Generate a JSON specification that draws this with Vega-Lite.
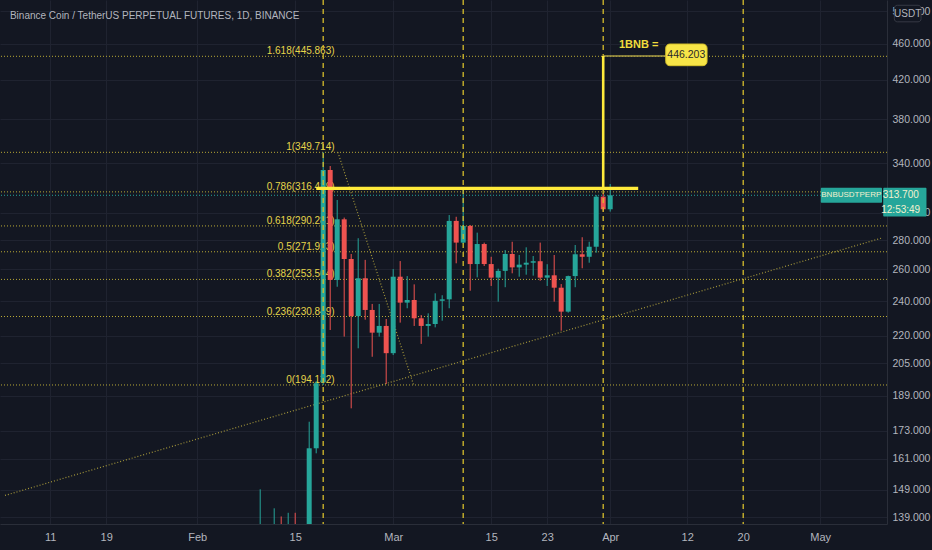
{
  "$schema": "https://vega.github.io/schema/vega-lite/v6.json",
  "width": 887,
  "height": 524,
  "autosize": {"type": "none"},
  "padding": {"left": 0, "top": 0, "right": 45, "bottom": 26},
  "background": "#131722",
  "config": {
    "view": {"stroke": null},
    "font": "Liberation Sans, sans-serif",
    "text": {"font": "Liberation Sans, sans-serif"},
    "axis": {"labelFont": "Liberation Sans, sans-serif"}
  },
  "datasets": {
    "candles": [
      {"date": "2021-02-10", "open": 130, "high": 149.1, "low": 126, "close": 134},
      {"date": "2021-02-11", "open": 134, "high": 136.5, "low": 122, "close": 128},
      {"date": "2021-02-12", "open": 128, "high": 142.1, "low": 125, "close": 136.5},
      {"date": "2021-02-13", "open": 136.5, "high": 139.2, "low": 128, "close": 132},
      {"date": "2021-02-14", "open": 132, "high": 140.5, "low": 128, "close": 135.5},
      {"date": "2021-02-15", "open": 135.5, "high": 140.5, "low": 127, "close": 131},
      {"date": "2021-02-16", "open": 131, "high": 136, "low": 126, "close": 133},
      {"date": "2021-02-17", "open": 133, "high": 176.9, "low": 130, "close": 165.4},
      {"date": "2021-02-18", "open": 165.4, "high": 196, "low": 163.3, "close": 195.0},
      {"date": "2021-02-19", "open": 195.5, "high": 349.714, "low": 194.132, "close": 334.4},
      {"date": "2021-02-20", "open": 334.4, "high": 337.8, "low": 223.1, "close": 253.2},
      {"date": "2021-02-21", "open": 253.2, "high": 310.0, "low": 248.9, "close": 295.2},
      {"date": "2021-02-22", "open": 295.2, "high": 296.5, "low": 219.4, "close": 267.0},
      {"date": "2021-02-23", "open": 267.0, "high": 270.4, "low": 183.0, "close": 231.1},
      {"date": "2021-02-24", "open": 231.1, "high": 281.4, "low": 213.0, "close": 254.3},
      {"date": "2021-02-25", "open": 254.3, "high": 266.4, "low": 229.0, "close": 234.7},
      {"date": "2021-02-26", "open": 234.7, "high": 238.3, "low": 208.5, "close": 221.6},
      {"date": "2021-02-27", "open": 221.6, "high": 238.3, "low": 219.4, "close": 225.4},
      {"date": "2021-02-28", "open": 225.4, "high": 229.4, "low": 194.6, "close": 210.4},
      {"date": "2021-03-01", "open": 210.4, "high": 260.3, "low": 209.4, "close": 255.3},
      {"date": "2021-03-02", "open": 255.3, "high": 265.6, "low": 227.3, "close": 239.1},
      {"date": "2021-03-03", "open": 239.1, "high": 255.7, "low": 235.7, "close": 240.7},
      {"date": "2021-03-04", "open": 240.7, "high": 250.4, "low": 225.4, "close": 229.8},
      {"date": "2021-03-05", "open": 229.8, "high": 231.7, "low": 215.4, "close": 225.4},
      {"date": "2021-03-06", "open": 225.4, "high": 232.7, "low": 219.4, "close": 226.5},
      {"date": "2021-03-07", "open": 226.5, "high": 244.8, "low": 224.6, "close": 240.2},
      {"date": "2021-03-08", "open": 240.2, "high": 243.6, "low": 228.4, "close": 241.1},
      {"date": "2021-03-09", "open": 241.1, "high": 298.4, "low": 235.7, "close": 294.0},
      {"date": "2021-03-10", "open": 294.0, "high": 297.1, "low": 264.1, "close": 278.3},
      {"date": "2021-03-11", "open": 278.3, "high": 318.0, "low": 277.5, "close": 290.3},
      {"date": "2021-03-12", "open": 290.3, "high": 291.0, "low": 246.4, "close": 263.6},
      {"date": "2021-03-13", "open": 263.6, "high": 285.4, "low": 254.9, "close": 277.3},
      {"date": "2021-03-14", "open": 277.3, "high": 278.3, "low": 262.3, "close": 263.6},
      {"date": "2021-03-15", "open": 263.6, "high": 268.5, "low": 249.4, "close": 254.7},
      {"date": "2021-03-16", "open": 254.7, "high": 260.5, "low": 239.7, "close": 259.1},
      {"date": "2021-03-17", "open": 259.1, "high": 273.1, "low": 248.6, "close": 270.4},
      {"date": "2021-03-18", "open": 270.4, "high": 278.9, "low": 257.5, "close": 261.4},
      {"date": "2021-03-19", "open": 261.4, "high": 269.7, "low": 255.3, "close": 263.2},
      {"date": "2021-03-20", "open": 263.2, "high": 275.0, "low": 256.6, "close": 264.5},
      {"date": "2021-03-21", "open": 264.5, "high": 269.0, "low": 256.0, "close": 265.5},
      {"date": "2021-03-22", "open": 265.5, "high": 278.3, "low": 252.7, "close": 254.7},
      {"date": "2021-03-23", "open": 254.7, "high": 263.5, "low": 249.4, "close": 256.2},
      {"date": "2021-03-24", "open": 256.2, "high": 269.7, "low": 239.7, "close": 248.3},
      {"date": "2021-03-25", "open": 248.3, "high": 250.6, "low": 222.7, "close": 233.7},
      {"date": "2021-03-26", "open": 233.7, "high": 256.0, "low": 233.1, "close": 255.7},
      {"date": "2021-03-27", "open": 255.7, "high": 276.6, "low": 248.6, "close": 270.2},
      {"date": "2021-03-28", "open": 270.2, "high": 282.1, "low": 260.8, "close": 268.5},
      {"date": "2021-03-29", "open": 268.5, "high": 278.9, "low": 264.5, "close": 275.4},
      {"date": "2021-03-30", "open": 275.4, "high": 313.9, "low": 271.3, "close": 312.6},
      {"date": "2021-03-31", "open": 312.6, "high": 315.3, "low": 301.0, "close": 302.8},
      {"date": "2021-04-01", "open": 302.8, "high": 322.8, "low": 301.0, "close": 313.7}
    ],
    "fib": [
      {"label": "1.618(445.863)", "price": 445.863},
      {"label": "1(349.714)", "price": 349.714},
      {"label": "0.786(316.419)", "price": 316.419},
      {"label": "0.618(290.281)", "price": 290.281},
      {"label": "0.5(271.923)", "price": 271.923},
      {"label": "0.382(253.564)", "price": 253.564},
      {"label": "0.236(230.849)", "price": 230.849},
      {"label": "0(194.132)", "price": 194.132}
    ],
    "diagonals": [
      {"series": "fib", "date": "2021-02-21T02:30:00Z", "price": 349.714},
      {"series": "fib", "date": "2021-03-03T22:05:00Z", "price": 194.132},
      {"series": "trend", "date": "2021-01-04T13:05:00Z", "price": 146.8},
      {"series": "trend", "date": "2021-05-09T19:52:00Z", "price": 281.6}
    ],
    "cycles": [
      {"date": "2021-02-19"},
      {"date": "2021-03-11"},
      {"date": "2021-03-31"},
      {"date": "2021-04-20"}
    ]
  },
  "layer": [
    {
      "data": {"name": "fib"},
      "mark": {"type": "rule", "clip": true, "color": "#b8a935", "strokeWidth": 1, "strokeDash": [1, 2]},
      "encoding": {
        "y": {"field": "price", "type": "quantitative", "scale": {"type": "log", "domain": [136.57, 514.11], "nice": false, "zero": false}}
      }
    },
    {
      "data": {"name": "fib"},
      "mark": {"type": "text", "clip": true, "align": "right", "baseline": "alphabetic", "dy": -2, "fontSize": 10, "color": "#e6d54a"},
      "encoding": {
        "x": {"datum": {"year": 2021, "month": "feb", "date": 20, "hours": 15, "utc": true}, "type": "temporal", "scale": {"type": "utc", "domain": [{"year": 2021, "month": "jan", "date": 4, "hours": 13, "minutes": 5, "utc": true}, {"year": 2021, "month": "may", "date": 9, "hours": 19, "minutes": 52, "utc": true}]}},
        "y": {"field": "price", "type": "quantitative", "scale": {"type": "log", "domain": [136.57, 514.11], "nice": false, "zero": false}},
        "text": {"field": "label"}
      }
    },
    {
      "data": {"name": "diagonals"},
      "mark": {"type": "line", "clip": true, "color": "#a3963a", "strokeWidth": 1.2, "strokeDash": [1, 2]},
      "encoding": {
        "x": {"field": "date", "type": "temporal", "scale": {"type": "utc", "domain": [{"year": 2021, "month": "jan", "date": 4, "hours": 13, "minutes": 5, "utc": true}, {"year": 2021, "month": "may", "date": 9, "hours": 19, "minutes": 52, "utc": true}]}},
        "y": {"field": "price", "type": "quantitative", "scale": {"type": "log", "domain": [136.57, 514.11], "nice": false, "zero": false}},
        "detail": {"field": "series"}
      }
    },
    {
      "data": {"values": [{"price": 313.7}]},
      "mark": {"type": "rule", "clip": true, "color": "#26a69a", "strokeWidth": 1, "strokeDash": [1, 2]},
      "encoding": {
        "y": {"field": "price", "type": "quantitative", "scale": {"type": "log", "domain": [136.57, 514.11], "nice": false, "zero": false}}
      }
    },
    {
      "data": {"name": "candles"},
      "mark": {"type": "rule", "clip": true, "strokeWidth": 1},
      "encoding": {
        "x": {
          "field": "date", "type": "temporal",
          "scale": {"type": "utc", "domain": [{"year": 2021, "month": "jan", "date": 4, "hours": 13, "minutes": 5, "utc": true}, {"year": 2021, "month": "may", "date": 9, "hours": 19, "minutes": 52, "utc": true}]},
          "axis": {
            "title": null,
            "values": [
              {"year": 2021, "month": "jan", "date": 11, "utc": true},
              {"year": 2021, "month": "jan", "date": 19, "utc": true},
              {"year": 2021, "month": "feb", "date": 1, "utc": true},
              {"year": 2021, "month": "feb", "date": 15, "utc": true},
              {"year": 2021, "month": "mar", "date": 1, "utc": true},
              {"year": 2021, "month": "mar", "date": 15, "utc": true},
              {"year": 2021, "month": "mar", "date": 23, "utc": true},
              {"year": 2021, "month": "apr", "date": 1, "utc": true},
              {"year": 2021, "month": "apr", "date": 12, "utc": true},
              {"year": 2021, "month": "apr", "date": 20, "utc": true},
              {"year": 2021, "month": "may", "date": 1, "utc": true}
            ],
            "labelExpr": "utcdate(datum.value) == 1 ? utcFormat(datum.value, '%b') : utcFormat(datum.value, '%d')",
            "grid": true, "gridColor": "#1f2330", "gridWidth": 1,
            "domainColor": "#2a2e39", "ticks": false,
            "labelColor": "#b2b5be", "labelFontSize": 11, "labelPadding": 7,
            "labelFlush": false, "labelOverlap": false
          }
        },
        "y": {
          "field": "low", "type": "quantitative",
          "scale": {"type": "log", "domain": [136.57, 514.11], "nice": false, "zero": false},
          "axis": {
            "title": null, "orient": "right",
            "values": [139, 149, 161, 173, 189, 205, 220, 240, 260, 280, 300, 340, 380, 420, 460, 500],
            "format": ".3f",
            "grid": true, "gridColor": "#1f2330", "gridWidth": 1,
            "domainColor": "#2a2e39", "ticks": false,
            "labelColor": "#b2b5be", "labelFontSize": 10.5, "labelPadding": 5,
            "labelFlush": false, "labelOverlap": false
          }
        },
        "y2": {"field": "high"},
        "color": {"condition": {"test": "datum.close >= datum.open", "value": "#26a69a"}, "value": "#ef5350"}
      }
    },
    {
      "data": {"name": "candles"},
      "mark": {"type": "bar", "clip": true, "size": 5, "minBandSize": 1},
      "encoding": {
        "x": {"field": "date", "type": "temporal", "scale": {"type": "utc", "domain": [{"year": 2021, "month": "jan", "date": 4, "hours": 13, "minutes": 5, "utc": true}, {"year": 2021, "month": "may", "date": 9, "hours": 19, "minutes": 52, "utc": true}]}},
        "y": {"field": "open", "type": "quantitative", "scale": {"type": "log", "domain": [136.57, 514.11], "nice": false, "zero": false}},
        "y2": {"field": "close"},
        "color": {"condition": {"test": "datum.close >= datum.open", "value": "#26a69a"}, "value": "#ef5350"}
      }
    },
    {
      "data": {"name": "cycles"},
      "mark": {"type": "rule", "clip": true, "color": "#d6bd2b", "strokeWidth": 1.3, "strokeDash": [5, 4]},
      "encoding": {
        "x": {"field": "date", "type": "temporal", "scale": {"type": "utc", "domain": [{"year": 2021, "month": "jan", "date": 4, "hours": 13, "minutes": 5, "utc": true}, {"year": 2021, "month": "may", "date": 9, "hours": 19, "minutes": 52, "utc": true}]}}
      }
    },
    {
      "data": {"values": [{"date": "2021-03-31", "date2": "2021-04-08T22:30:00Z", "price": 446.203}]},
      "mark": {"type": "rule", "clip": true, "color": "#a89c45", "strokeWidth": 1.5},
      "encoding": {
        "x": {"field": "date", "type": "temporal", "scale": {"type": "utc", "domain": [{"year": 2021, "month": "jan", "date": 4, "hours": 13, "minutes": 5, "utc": true}, {"year": 2021, "month": "may", "date": 9, "hours": 19, "minutes": 52, "utc": true}]}},
        "x2": {"field": "date2"},
        "y": {"field": "price", "type": "quantitative", "scale": {"type": "log", "domain": [136.57, 514.11], "nice": false, "zero": false}}
      }
    },
    {
      "data": {"values": [{"date": "2021-02-18", "date2": "2021-04-05", "price": 319.3}]},
      "mark": {"type": "rule", "clip": true, "color": "#ffeb3b", "strokeWidth": 3.2},
      "encoding": {
        "x": {"field": "date", "type": "temporal", "scale": {"type": "utc", "domain": [{"year": 2021, "month": "jan", "date": 4, "hours": 13, "minutes": 5, "utc": true}, {"year": 2021, "month": "may", "date": 9, "hours": 19, "minutes": 52, "utc": true}]}},
        "x2": {"field": "date2"},
        "y": {"field": "price", "type": "quantitative", "scale": {"type": "log", "domain": [136.57, 514.11], "nice": false, "zero": false}}
      }
    },
    {
      "data": {"values": [{"date": "2021-03-31", "price": 319.3, "price2": 446.203}]},
      "mark": {"type": "rule", "clip": true, "color": "#ffeb3b", "strokeWidth": 2.6},
      "encoding": {
        "x": {"field": "date", "type": "temporal", "scale": {"type": "utc", "domain": [{"year": 2021, "month": "jan", "date": 4, "hours": 13, "minutes": 5, "utc": true}, {"year": 2021, "month": "may", "date": 9, "hours": 19, "minutes": 52, "utc": true}]}},
        "y": {"field": "price", "type": "quantitative", "scale": {"type": "log", "domain": [136.57, 514.11], "nice": false, "zero": false}},
        "y2": {"field": "price2"}
      }
    },
    {
      "data": {"values": [{"date": "2021-04-08T22:30:00Z", "date2": "2021-04-14T20:00:00Z", "price": 459.9, "price2": 435.4}]},
      "mark": {"type": "rect", "clip": true, "color": "#f7e547", "stroke": "#d8c32c", "strokeWidth": 1, "cornerRadius": 4},
      "encoding": {
        "x": {"field": "date", "type": "temporal", "scale": {"type": "utc", "domain": [{"year": 2021, "month": "jan", "date": 4, "hours": 13, "minutes": 5, "utc": true}, {"year": 2021, "month": "may", "date": 9, "hours": 19, "minutes": 52, "utc": true}]}},
        "x2": {"field": "date2"},
        "y": {"field": "price", "type": "quantitative", "scale": {"type": "log", "domain": [136.57, 514.11], "nice": false, "zero": false}},
        "y2": {"field": "price2"}
      }
    },
    {
      "data": {"values": [{"date": "2021-04-11T21:00:00Z", "price": 447.5, "text": "446.203"}]},
      "mark": {"type": "text", "clip": true, "align": "center", "baseline": "middle", "fontSize": 10.5, "color": "#2a2a2a"},
      "encoding": {
        "x": {"field": "date", "type": "temporal", "scale": {"type": "utc", "domain": [{"year": 2021, "month": "jan", "date": 4, "hours": 13, "minutes": 5, "utc": true}, {"year": 2021, "month": "may", "date": 9, "hours": 19, "minutes": 52, "utc": true}]}},
        "y": {"field": "price", "type": "quantitative", "scale": {"type": "log", "domain": [136.57, 514.11], "nice": false, "zero": false}},
        "text": {"field": "text"}
      }
    },
    {
      "data": {"values": [{"date": "2021-04-02T06:00:00Z", "price": 458.8, "text": "1BNB ="}]},
      "mark": {"type": "text", "clip": true, "align": "left", "baseline": "middle", "fontSize": 11, "fontWeight": "bold", "color": "#f0dc3c"},
      "encoding": {
        "x": {"field": "date", "type": "temporal", "scale": {"type": "utc", "domain": [{"year": 2021, "month": "jan", "date": 4, "hours": 13, "minutes": 5, "utc": true}, {"year": 2021, "month": "may", "date": 9, "hours": 19, "minutes": 52, "utc": true}]}},
        "y": {"field": "price", "type": "quantitative", "scale": {"type": "log", "domain": [136.57, 514.11], "nice": false, "zero": false}},
        "text": {"field": "text"}
      }
    },
    {
      "data": {"values": [
        {"date": "2021-05-01T02:00:00Z", "date2": "2021-05-09T19:52:00Z", "price": 319.8, "price2": 307.8},
        {"date": "2021-05-10T00:00:00Z", "date2": "2021-05-16T04:20:00Z", "price": 319.8, "price2": 297.3}
      ]},
      "mark": {"type": "rect", "clip": false, "color": "#26a69a", "cornerRadius": 1},
      "encoding": {
        "x": {"field": "date", "type": "temporal", "scale": {"type": "utc", "domain": [{"year": 2021, "month": "jan", "date": 4, "hours": 13, "minutes": 5, "utc": true}, {"year": 2021, "month": "may", "date": 9, "hours": 19, "minutes": 52, "utc": true}]}},
        "x2": {"field": "date2"},
        "y": {"field": "price", "type": "quantitative", "scale": {"type": "log", "domain": [136.57, 514.11], "nice": false, "zero": false}},
        "y2": {"field": "price2"}
      }
    },
    {
      "data": {"values": [
        {"date": "2021-05-05T10:30:00Z", "price": 313.7, "text": "BNBUSDTPERP"}
      ]},
      "mark": {"type": "text", "clip": false, "align": "center", "baseline": "middle", "fontSize": 8, "color": "#f3f1cf"},
      "encoding": {
        "x": {"field": "date", "type": "temporal", "scale": {"type": "utc", "domain": [{"year": 2021, "month": "jan", "date": 4, "hours": 13, "minutes": 5, "utc": true}, {"year": 2021, "month": "may", "date": 9, "hours": 19, "minutes": 52, "utc": true}]}},
        "y": {"field": "price", "type": "quantitative", "scale": {"type": "log", "domain": [136.57, 514.11], "nice": false, "zero": false}},
        "text": {"field": "text"}
      }
    },
    {
      "data": {"values": [
        {"date": "2021-05-12T12:00:00Z", "price": 313.7, "text": "313.700"},
        {"date": "2021-05-12T12:00:00Z", "price": 302.6, "text": "12:53:49"}
      ]},
      "mark": {"type": "text", "clip": false, "align": "center", "baseline": "middle", "fontSize": 10, "color": "#f3f1cf"},
      "encoding": {
        "x": {"field": "date", "type": "temporal", "scale": {"type": "utc", "domain": [{"year": 2021, "month": "jan", "date": 4, "hours": 13, "minutes": 5, "utc": true}, {"year": 2021, "month": "may", "date": 9, "hours": 19, "minutes": 52, "utc": true}]}},
        "y": {"field": "price", "type": "quantitative", "scale": {"type": "log", "domain": [136.57, 514.11], "nice": false, "zero": false}},
        "text": {"field": "text"}
      }
    },
    {
      "data": {"values": [{"date": "2021-05-11T14:10:00Z", "date2": "2021-05-15T09:50:00Z", "price": 507.3, "price2": 486.5}]},
      "mark": {"type": "rect", "clip": false, "color": "#131722", "stroke": "#363a45", "strokeWidth": 1, "cornerRadius": 3},
      "encoding": {
        "x": {"field": "date", "type": "temporal", "scale": {"type": "utc", "domain": [{"year": 2021, "month": "jan", "date": 4, "hours": 13, "minutes": 5, "utc": true}, {"year": 2021, "month": "may", "date": 9, "hours": 19, "minutes": 52, "utc": true}]}},
        "x2": {"field": "date2"},
        "y": {"field": "price", "type": "quantitative", "scale": {"type": "log", "domain": [136.57, 514.11], "nice": false, "zero": false}},
        "y2": {"field": "price2"}
      }
    },
    {
      "data": {"values": [{"date": "2021-05-13T12:00:00Z", "price": 496.8, "text": "USDT"}]},
      "mark": {"type": "text", "clip": false, "align": "center", "baseline": "middle", "fontSize": 10, "color": "#b2b5be"},
      "encoding": {
        "x": {"field": "date", "type": "temporal", "scale": {"type": "utc", "domain": [{"year": 2021, "month": "jan", "date": 4, "hours": 13, "minutes": 5, "utc": true}, {"year": 2021, "month": "may", "date": 9, "hours": 19, "minutes": 52, "utc": true}]}},
        "y": {"field": "price", "type": "quantitative", "scale": {"type": "log", "domain": [136.57, 514.11], "nice": false, "zero": false}},
        "text": {"field": "text"}
      }
    },
    {
      "data": {"values": [{"date": "2021-01-05T06:00:00Z", "price": 494.3, "text": "Binance Coin / TetherUS PERPETUAL FUTURES, 1D, BINANCE"}]},
      "mark": {"type": "text", "clip": false, "align": "left", "baseline": "middle", "fontSize": 10, "color": "#b2b5be"},
      "encoding": {
        "x": {"field": "date", "type": "temporal", "scale": {"type": "utc", "domain": [{"year": 2021, "month": "jan", "date": 4, "hours": 13, "minutes": 5, "utc": true}, {"year": 2021, "month": "may", "date": 9, "hours": 19, "minutes": 52, "utc": true}]}},
        "y": {"field": "price", "type": "quantitative", "scale": {"type": "log", "domain": [136.57, 514.11], "nice": false, "zero": false}},
        "text": {"field": "text"}
      }
    }
  ]
}
